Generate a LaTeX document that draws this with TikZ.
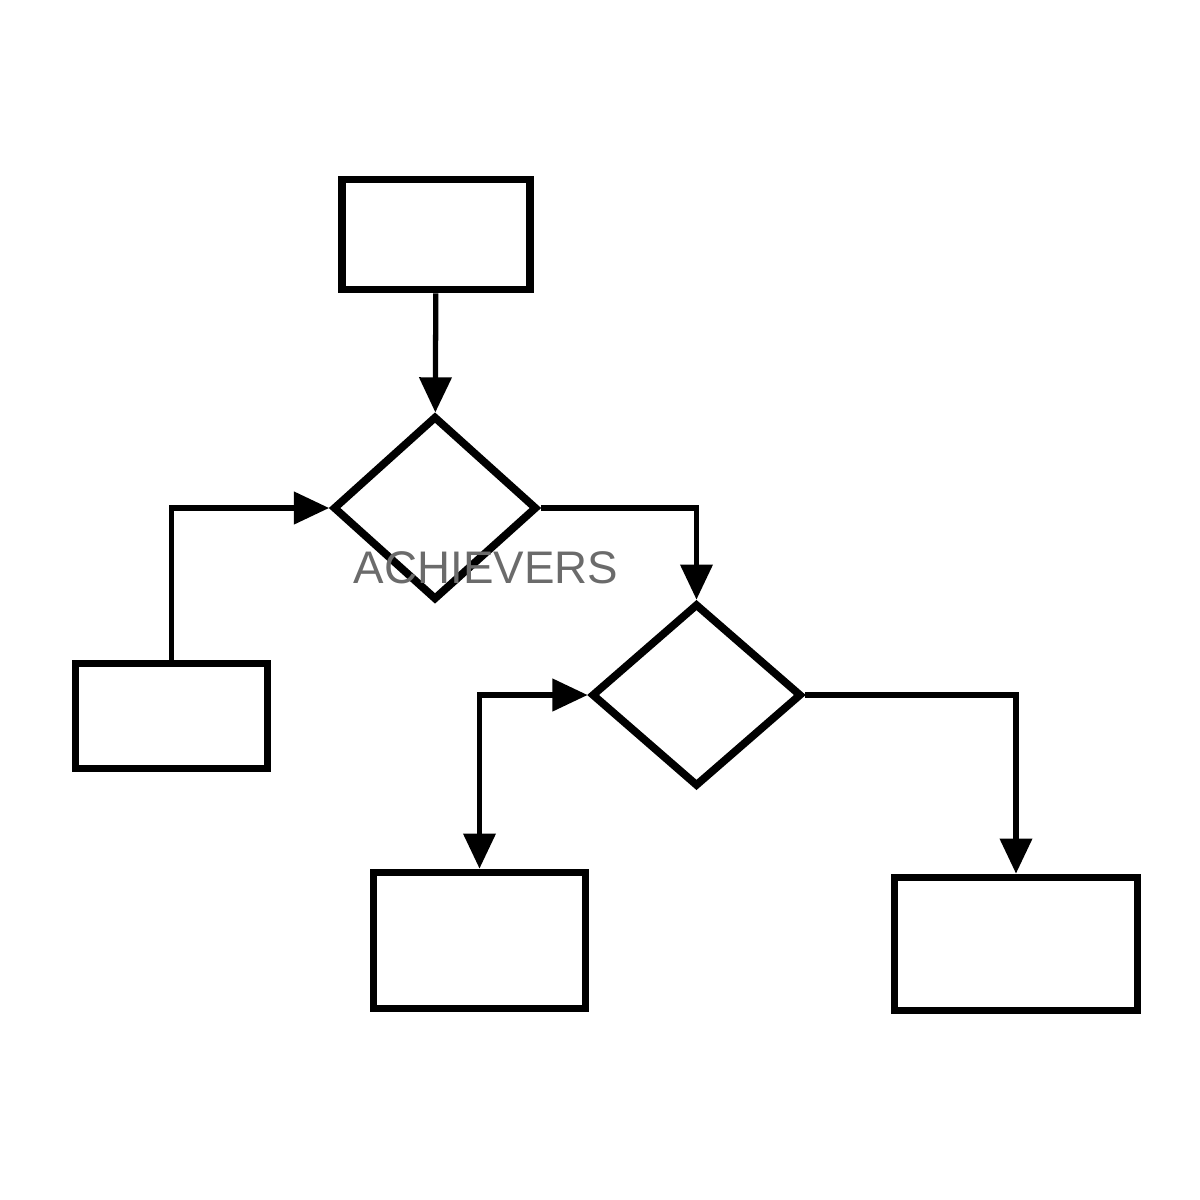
\documentclass[tikz,border=0pt]{standalone}
\usepackage{fontspec}
\setsansfont{Liberation Sans}
\usetikzlibrary{shapes.geometric,arrows.meta}

\begin{document}
\begin{tikzpicture}
			\tikzstyle{every node}+=[inner sep=0pt]
			\tikzstyle{blk}=[draw=black, line width=2.2pt, rectangle]
			\tikzstyle{dec}=[draw=black, line width=2.2pt, diamond, aspect=1]
			\tikzstyle{conn}=[draw=black, line width=1.5pt, -{Triangle[length=10pt,width=9pt]}]
			\useasboundingbox (0,0) rectangle (12,-12);
			\node [blk, minimum width=1.88cm, minimum height=1.10cm] (start) at (4.36,-2.345) {};
			\node [blk, minimum width=1.92cm, minimum height=1.05cm] (lbox) at (1.715,-7.16) {};
			\node [blk, minimum width=2.12cm, minimum height=1.36cm] (mbox) at (4.795,-9.405) {};
			\node [blk, minimum width=2.43cm, minimum height=1.33cm] (rbox) at (10.16,-9.44) {};
			\node [dec, minimum width=2.04cm, minimum height=1.84cm] (d1) at (4.35,-5.08) {};
			\node [dec, minimum width=2.10cm, minimum height=1.83cm] (d2) at (6.965,-6.95) {};
			\draw [conn] (start) -- (d1);
			\draw [conn] (lbox.north) |- (d1.west);
			\draw [conn] (d1.east) -| (d2.north);
			\draw [conn] (d2.east) -| (rbox.north);
			\draw [conn, {Triangle[length=10pt,width=9pt]}-{Triangle[length=10pt,width=9pt]}] (mbox.north) |- (d2.west);
			\node [text=black!58, font=\sffamily\fontsize{13pt}{15pt}\selectfont] (mark) at (4.86,-5.68) {ACHIEVERS};
		\end{tikzpicture}
\end{document}
